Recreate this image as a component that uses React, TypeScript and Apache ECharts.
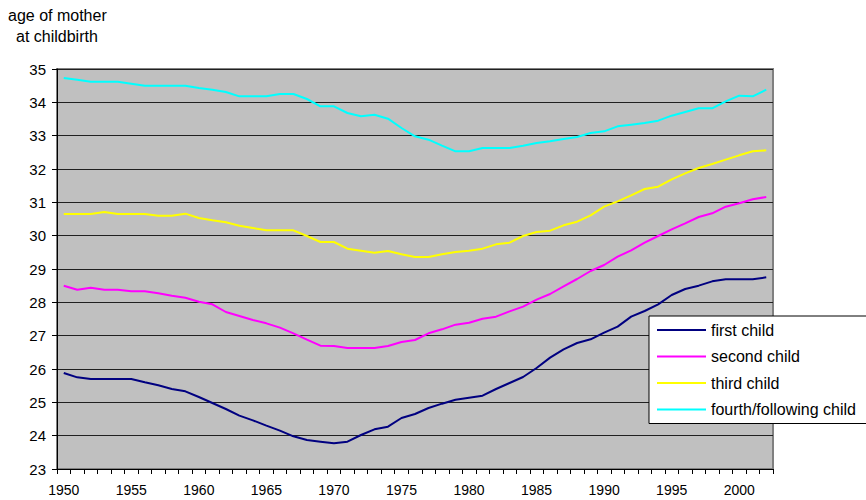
import React, { useEffect, useRef } from "react";
import * as echarts from "echarts";

const years: string[] = [];
for (let y = 1950; y <= 2002; y++) years.push(String(y));

const seriesNames = ["first child", "second child", "third child", "fourth/following child"];
const seriesColors = ["#000080", "#FF00FF", "#FFFF00", "#00FFFF"];

const firstChild = [
  25.88, 25.75, 25.7, 25.7, 25.7, 25.7, 25.6, 25.51, 25.4, 25.33,
  25.16, 24.98, 24.8, 24.6, 24.46, 24.3, 24.15, 23.98, 23.87, 23.82,
  23.77, 23.82, 24.02, 24.19, 24.27, 24.53, 24.65, 24.83, 24.96, 25.08,
  25.14, 25.2, 25.4, 25.58, 25.76, 26.03, 26.34, 26.59, 26.78, 26.89,
  27.09, 27.27, 27.57, 27.74, 27.94, 28.22, 28.4, 28.5, 28.63, 28.69,
  28.69, 28.69, 28.75,
];
const secondChild = [
  28.5, 28.38, 28.44, 28.38, 28.38, 28.33, 28.33, 28.27, 28.2, 28.14,
  28.02, 27.94, 27.71, 27.59, 27.47, 27.37, 27.24, 27.07, 26.88, 26.7,
  26.69, 26.63, 26.63, 26.63, 26.69, 26.81, 26.87, 27.07, 27.19, 27.33,
  27.39, 27.51, 27.57, 27.73, 27.87, 28.08, 28.25, 28.48, 28.7, 28.94,
  29.12, 29.37, 29.56, 29.79, 29.99, 30.19, 30.37, 30.56, 30.67, 30.87,
  30.97, 31.09, 31.16,
];
const thirdChild = [
  30.65, 30.65, 30.65, 30.71, 30.65, 30.65, 30.65, 30.6, 30.6, 30.66,
  30.53, 30.46, 30.4, 30.3, 30.23, 30.16, 30.16, 30.16, 29.99, 29.81,
  29.81, 29.61, 29.55, 29.49, 29.54, 29.44, 29.36, 29.36, 29.44, 29.51,
  29.55, 29.61, 29.74, 29.79, 29.99, 30.11, 30.15, 30.31, 30.42, 30.61,
  30.87, 31.03, 31.21, 31.4, 31.47, 31.69, 31.87, 32.03, 32.15, 32.28,
  32.41, 32.53, 32.56,
];
const fourthChild = [
  34.73, 34.68, 34.62, 34.62, 34.62, 34.56, 34.5, 34.5, 34.5, 34.5,
  34.43, 34.38, 34.31, 34.18, 34.18, 34.18, 34.25, 34.25, 34.1, 33.88,
  33.88, 33.68, 33.58, 33.63, 33.51, 33.23, 32.98, 32.88, 32.7, 32.53,
  32.53, 32.63, 32.63, 32.63, 32.7, 32.78, 32.83, 32.9, 32.96, 33.08,
  33.13, 33.28, 33.33, 33.38, 33.45, 33.6, 33.71, 33.82, 33.82, 34.03,
  34.2, 34.18, 34.38,
];
const seriesData = [firstChild, secondChild, thirdChild, fourthChild];

const FONT = "Liberation Sans, Arial, sans-serif";

export default function App() {
  const ref = useRef<HTMLDivElement>(null);
  useEffect(() => {
    if (!ref.current) return;
    const chart = echarts.init(ref.current, undefined, { renderer: "svg" });
    chart.setOption({
      animation: false,
      textStyle: { fontFamily: FONT },
      graphic: [
        { type: "text", left: 8, top: 7, style: { text: "age of mother", fontSize: 16, fontFamily: FONT, fill: "#000" } },
        { type: "text", left: 16, top: 28, style: { text: "at childbirth", fontSize: 16, fontFamily: FONT, fill: "#000" } },
      ],
      grid: {
        left: 57,
        right: 93,
        top: 69,
        bottom: 31,
        show: true,
        backgroundColor: "#C0C0C0",
        borderColor: "#808080",
        borderWidth: 2,
      },
      legend: {
        orient: "vertical",
        left: 649,
        top: 316,
        padding: [6, 30, 6, 8],
        itemGap: 10.5,
        itemWidth: 49,
        itemHeight: 2,
        itemTextGap: 4,
        icon: "rect",
        backgroundColor: "#FFFFFF",
        borderColor: "#000000",
        borderWidth: 1,
        borderRadius: 0,
        textStyle: { fontSize: 16, color: "#000", fontFamily: FONT },
        data: seriesNames,
      },
      xAxis: {
        type: "category",
        data: years,
        boundaryGap: true,
        axisLine: { lineStyle: { color: "#000", width: 1 } },
        axisTick: { show: true, interval: 0, length: 5, lineStyle: { color: "#000" } },
        axisLabel: { interval: 4, margin: 14, fontSize: 14, color: "#000", fontFamily: FONT },
        splitLine: { show: false },
      },
      yAxis: {
        type: "value",
        min: 23,
        max: 35,
        interval: 1,
        axisLine: { show: true, lineStyle: { color: "#000", width: 1 } },
        axisTick: { show: true, length: 5, lineStyle: { color: "#000" } },
        axisLabel: { margin: 11, fontSize: 15, color: "#000", fontFamily: FONT },
        splitLine: { show: true, lineStyle: { color: "#202020", width: 1 } },
      },
      series: seriesNames.map((name, i) => ({
        name,
        type: "line",
        data: seriesData[i],
        showSymbol: false,
        symbol: "none",
        lineStyle: { color: seriesColors[i], width: 2 },
        itemStyle: { color: seriesColors[i] },
      })),
    });
    return () => chart.dispose();
  }, []);
  return (
    <div
      ref={ref}
      style={{ position: "fixed", left: 0, top: 0, width: 866, height: 500, background: "#fff" }}
    />
  );
}
